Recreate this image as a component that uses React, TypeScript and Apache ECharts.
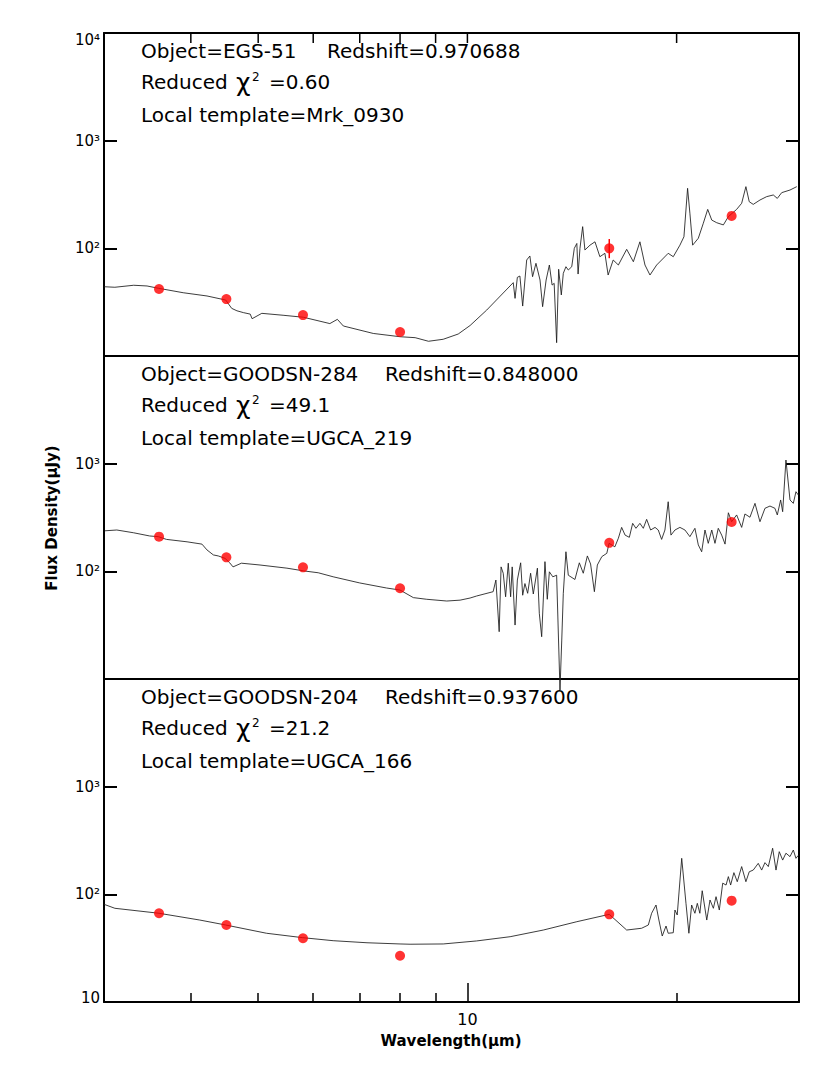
import React, { useEffect, useRef } from 'react';
import * as echarts from 'echarts';

// ---------------- data ----------------
const objectNames = ['EGS-51', 'GOODSN-284', 'GOODSN-204'];
const redshifts = ['0.970688', '0.848000', '0.937600'];
const reducedChi2 = ['0.60', '49.1', '21.2'];
const localTemplates = ['Mrk_0930', 'UGCA_219', 'UGCA_166'];

// observed-frame photometry (um) and flux densities (uJy)
const photWavelengths = [3.6, 4.5, 5.8, 8.0, 16, 24];
const photFlux1 = [41.9, 33.8, 24.0, 16.7, 100, 200];
const photFlux2 = [210, 135, 109, 69.6, 184, 287];
const photFlux3 = [66.7, 51.9, 39.1, 26.9, 65.2, 87.3];
// [wavelength, low, high]
const errorBars1 = [[16, 81, 122]];

// template SEDs [wavelength (um), flux (uJy)]
const sed1 = [
  [3.0, 44.0], [3.11, 43.5], [3.31, 45.4], [3.46, 44.7], [3.59, 42.6], [3.9, 38.7], [4.22, 36.1], [4.49, 33.1],
  [4.58, 27.7], [4.66, 26.3], [4.76, 25.3], [4.87, 24.5], [4.9, 22.2], [5.06, 24.9], [5.43, 23.9], [5.81, 22.9],
  [6.34, 20.0], [6.5, 21.9], [6.63, 19.0], [7.32, 16.2], [8.0, 15.1], [8.41, 14.8], [8.79, 13.7], [9.23, 14.3],
  [9.7, 16.0], [10.09, 19.2], [10.66, 26.7], [11.64, 48.0], [11.71, 34.3], [11.8, 53.8], [11.9, 55.3], [12.01, 29.1],
  [12.17, 77.9], [12.3, 84.9], [12.41, 54.5], [12.55, 72.6], [12.72, 50.8], [12.83, 28.7], [12.98, 50.8], [13.12, 70.0],
  [13.24, 45.6], [13.33, 47.3], [13.44, 13.3], [13.53, 63.9], [13.65, 36.9], [13.74, 58.6], [13.86, 67.5], [13.97, 62.9],
  [14.13, 67.5], [14.25, 100], [14.37, 111], [14.43, 57.7], [14.52, 100], [14.65, 159], [14.76, 96.5], [15.01, 107],
  [15.26, 115], [15.51, 83.6], [15.77, 89.9], [15.94, 56.5], [16.21, 77.9], [16.49, 70.0], [16.95, 97.9], [17.33, 75.1],
  [17.71, 115], [18.01, 70.0], [18.31, 56.5], [18.72, 70.0], [19.03, 77.9], [19.45, 89.9], [19.78, 83.6], [20.22, 107],
  [20.49, 128], [20.74, 361], [20.9, 212], [21.09, 107], [21.49, 124], [21.85, 171], [22.17, 230], [22.47, 183],
  [22.84, 173], [23.35, 165], [23.74, 197], [24.4, 230], [24.81, 262], [25.16, 374], [25.44, 271], [25.78, 256],
  [26.36, 281], [26.95, 302], [27.55, 313], [27.92, 291], [28.33, 329], [29.12, 348], [29.78, 374],
];

const sed2 = [
  [3.01, 238], [3.13, 242], [3.31, 228], [3.49, 213], [3.59, 210], [3.69, 198], [3.95, 188], [4.15, 179],
  [4.22, 158], [4.31, 142], [4.38, 139], [4.48, 132], [4.55, 120], [4.6, 110], [4.73, 119], [5.03, 114.5],
  [5.5, 107], [5.81, 101], [6.1, 97], [6.41, 89], [7.0, 78], [7.65, 70], [8.0, 67], [8.36, 57],
  [8.74, 55], [9.34, 53], [9.76, 54], [10.09, 56.5], [10.31, 59], [10.89, 64.7], [10.99, 83], [11.11, 27.5],
  [11.18, 110], [11.26, 96], [11.35, 58], [11.45, 119], [11.54, 58], [11.6, 110], [11.71, 31.7], [11.8, 83],
  [11.93, 120], [12.01, 60], [12.1, 77], [12.21, 62.5], [12.33, 96], [12.44, 61.6], [12.61, 107], [12.69, 40.8],
  [12.79, 24.7], [12.93, 123], [13.03, 55], [13.12, 99], [13.27, 89], [13.44, 92], [13.59, 7.9], [13.67, 23],
  [13.74, 62.5], [13.86, 152], [13.97, 92], [14.28, 84], [14.49, 120], [14.68, 96], [14.88, 139], [15.04, 117],
  [15.23, 64.7], [15.38, 114.5], [15.61, 137], [15.87, 147], [15.99, 182], [16.3, 169], [16.49, 203], [16.67, 256],
  [16.86, 217], [17.1, 207], [17.29, 279], [17.48, 251], [17.71, 279], [17.91, 251], [18.11, 304], [18.35, 242],
  [18.62, 256], [18.82, 242], [19.03, 198], [19.24, 242], [19.45, 443], [19.63, 217], [19.89, 242], [20.22, 256],
  [20.56, 242], [20.9, 210], [21.25, 251], [21.49, 176], [21.73, 152], [21.97, 242], [22.21, 182], [22.47, 242],
  [22.71, 182], [22.96, 251], [23.22, 217], [23.48, 179], [23.74, 350], [24.0, 289], [24.4, 334], [24.81, 256],
  [25.08, 341], [25.5, 318], [25.93, 428], [26.36, 289], [26.8, 385], [27.25, 404], [27.7, 385], [27.92, 334],
  [28.23, 460], [28.42, 358], [28.73, 1081], [29.12, 460], [29.44, 428], [29.7, 549], [29.93, 512],
];

const sed3 = [
  [3.0, 80.8], [3.11, 74.2], [3.6, 66.7], [4.12, 57.7], [4.49, 51.9], [5.14, 43.5], [5.79, 39.6], [6.41, 37.1],
  [7.17, 35.5], [8.0, 34.6], [8.27, 34.4], [9.23, 34.6], [10.31, 36.9], [11.52, 40.4], [12.86, 46.6], [14.37, 55.7],
  [16.0, 65.2], [16.95, 46.6], [17.81, 48.4], [18.21, 51.9], [18.41, 66.7], [18.68, 79.6], [18.86, 57.7], [19.07, 41.0],
  [19.31, 50.8], [19.45, 43.5], [19.78, 44.0], [19.89, 71.5], [20.04, 64.3], [20.34, 216], [20.63, 82.5], [20.83, 43.5],
  [21.02, 79.6], [21.25, 66.7], [21.42, 82.5], [21.6, 66.7], [21.77, 108], [22.1, 57.7], [22.34, 88.6], [22.59, 74.2],
  [22.79, 95.1], [23.04, 71.5], [23.3, 127], [23.56, 122], [23.74, 146], [23.92, 122], [24.18, 159], [24.45, 131],
  [24.81, 181], [25.16, 131], [25.44, 162], [25.78, 168], [26.21, 194], [26.51, 168], [26.8, 197], [27.1, 181],
  [27.49, 268], [27.8, 168], [28.1, 249], [28.42, 208], [28.73, 241], [29.12, 224], [29.44, 258], [29.7, 216],
  [29.93, 230],
];

// axis ticks / labels
const xRange = [3, 30];
const yRange = [10, 10000];
const xMinorTicks = [4, 5, 6, 7, 8, 9, 20];
const xMajorTicks = [10];
const xTopTicks = [4, 5, 6, 7, 8, 9, 10, 20];
const yTickValues = [100, 1000];
const yTickLabels: Record<number, string>[] = [
  { 4: '10⁴', 3: '10³', 2: '10²' },
  { 3: '10³', 2: '10²' },
  { 3: '10³', 2: '10²', 1: '10' },
];
const xTitle = 'Wavelength(μm)';
const yTitle = 'Flux Density(μJy)';

// ---------------- layout ----------------
const FONT = 'DejaVu Sans';
const TOPS = [33, 356, 679];
const LEFT = 104;
const WIDTH = 695;
const HEIGHT = 323;
const REDSHIFT_X = [327, 385, 385];
const TOP_TICK_LEN = 10;

function buildOption() {
  const spectra = [sed1, sed2, sed3];
  const photometry = [photFlux1, photFlux2, photFlux3];
  const black = '#000';
  const frameLine = { show: true, onZero: false, lineStyle: { color: black, width: 2 } };

  const grid = TOPS.map((t) => ({ left: LEFT, top: t, width: WIDTH, height: HEIGHT, outerBoundsMode: 'none' }));

  const xAxis: any[] = [];
  TOPS.forEach((_, i) => {
    const base = {
      type: 'log', logBase: 10, min: xRange[0], max: xRange[1], gridIndex: i,
      axisLine: frameLine, splitLine: { show: false }, minorTick: { show: false }, minorSplitLine: { show: false },
      axisLabel: { show: false },
    };
    xAxis.push({
      ...base, position: 'bottom',
      axisTick: i === 2
        ? { show: true, inside: true, length: 9, customValues: xMinorTicks, lineStyle: { color: black, width: 1.5 } }
        : { show: false },
    });
    xAxis.push({ ...base, position: 'top', axisTick: { show: false } });
  });
  // index 6: long major tick + label "10" on the bottom panel
  xAxis.push({
    type: 'log', logBase: 10, min: xRange[0], max: xRange[1], gridIndex: 2, position: 'bottom',
    axisLine: { show: false }, splitLine: { show: false }, minorTick: { show: false },
    axisTick: { show: true, inside: true, length: 19, customValues: xMajorTicks, lineStyle: { color: black, width: 1.5 } },
    axisLabel: {
      show: true, customValues: xMajorTicks, formatter: (v: number) => String(Math.round(v)),
      fontFamily: FONT, fontSize: 16, color: black, margin: 9,
    },
  });

  const yAxis: any[] = [];
  TOPS.forEach((_, i) => {
    const base = {
      type: 'log', logBase: 10, min: yRange[0], max: yRange[1], gridIndex: i,
      axisLine: frameLine, splitLine: { show: false }, minorTick: { show: false }, minorSplitLine: { show: false },
      axisTick: { show: true, inside: true, length: 13, customValues: yTickValues, lineStyle: { color: black, width: 2 } },
    };
    yAxis.push({
      ...base, position: 'left',
      axisLabel: {
        show: true, margin: 4, color: black, fontFamily: FONT, fontSize: 15,
        formatter: (v: number) => {
          const e = Math.round(Math.log10(v));
          const t = yTickLabels[i][e];
          if (!t) return '';
          if (e === 4) return `{t|${t}}`;
          if (e === 1) return `{b|${t}}`;
          return `{m|${t}}`;
        },
        rich: {
          t: { fontFamily: FONT, fontSize: 15, color: black, padding: [14, 0, 0, 0] },
          m: { fontFamily: FONT, fontSize: 15, color: black },
          b: { fontFamily: FONT, fontSize: 15, color: black, padding: [0, 0, 9, 0] },
        },
      },
    });
    yAxis.push({ ...base, position: 'right', axisLabel: { show: false } });
  });

  const series: any[] = [];
  TOPS.forEach((_, i) => {
    series.push({
      type: 'line', xAxisIndex: 2 * i, yAxisIndex: 2 * i, data: spectra[i],
      symbol: 'none', showSymbol: false, clip: i !== 1, silent: true,
      lineStyle: { color: '#1a1a1a', width: 0.85 }, z: 2,
    });
    series.push({
      type: 'scatter', xAxisIndex: 2 * i, yAxisIndex: 2 * i,
      data: photWavelengths.map((w, k) => [w, photometry[i][k]]),
      symbol: 'circle', symbolSize: 10, itemStyle: { color: '#ff0000' }, z: 4,
    });
  });
  // error bar on the first panel
  series.push({
    type: 'custom', xAxisIndex: 0, yAxisIndex: 0, z: 5, silent: true,
    data: errorBars1,
    encode: { x: 0, y: [1, 2] },
    renderItem: (_p: any, api: any) => {
      const x = api.value(0);
      const lo = api.coord([x, api.value(1)]);
      const hi = api.coord([x, api.value(2)]);
      return {
        type: 'line', shape: { x1: lo[0], y1: lo[1], x2: hi[0], y2: hi[1] },
        style: { stroke: '#ff0000', lineWidth: 1.5 },
      };
    },
  });

  const txt = (text: string, x: number, y: number, size = 20, extra: any = {}) => ({
    type: 'text', x, y, z: 10,
    style: { text, fontFamily: FONT, fontSize: size, fill: black, align: 'left', verticalAlign: 'middle', ...extra },
  });

  const graphic: any[] = [];
  TOPS.forEach((t, i) => {
    graphic.push(txt(`Object=${objectNames[i]}`, 141, t + 17.5));
    graphic.push(txt(`Redshift=${redshifts[i]}`, REDSHIFT_X[i], t + 17.5));
    graphic.push(txt('Reduced', 141, t + 49));
    graphic.push(txt('χ', 236, t + 49, 25));
    graphic.push(txt('2', 252, t + 44, 12));
    graphic.push(txt(`=${reducedChi2[i]}`, 269, t + 49));
    graphic.push(txt(`Local template=${localTemplates[i]}`, 141, t + 82));
  });
  graphic.push({
    type: 'text', x: 52, y: 518, rotation: Math.PI / 2, z: 10,
    style: { text: yTitle, fontFamily: FONT, fontSize: 15, fontWeight: 'bold', fill: black, align: 'center', verticalAlign: 'middle' },
  });
  graphic.push({
    type: 'text', x: 451, y: 1041, z: 10,
    style: { text: xTitle, fontFamily: FONT, fontSize: 15, fontWeight: 'bold', fill: black, align: 'center', verticalAlign: 'middle' },
  });

  return {
    animation: false,
    backgroundColor: '#fff',
    grid, xAxis, yAxis, series, graphic,
  };
}

export default function App() {
  const ref = useRef<HTMLDivElement>(null);
  useEffect(() => {
    if (!ref.current) return;
    const chart = echarts.init(ref.current, null, { renderer: 'svg' });
    const option: any = buildOption();
    chart.setOption(option);
    // inward ticks along the top edge of the first panel, placed through the panel's own scales
    try {
      const topY = chart.convertToPixel({ yAxisIndex: 0 } as any, yRange[1]) as number;
      const ticks = xTopTicks.map((v) => {
        const x = chart.convertToPixel({ xAxisIndex: 0 } as any, v) as number;
        return {
          type: 'line', z: 100, silent: true,
          shape: { x1: x, y1: topY, x2: x, y2: topY + TOP_TICK_LEN },
          style: { stroke: '#000', lineWidth: 1.5 },
        };
      });
      if (ticks.every((t) => isFinite(t.shape.x1) && isFinite(t.shape.y1))) {
        chart.setOption({ graphic: [...option.graphic, ...ticks] });
      }
    } catch (e) {
      // keep the chart as drawn
    }
    return () => chart.dispose();
  }, []);
  return (
    <div
      ref={ref}
      style={{ position: 'absolute', left: 0, top: 0, width: 830, height: 1068, background: '#fff' }}
    />
  );
}
